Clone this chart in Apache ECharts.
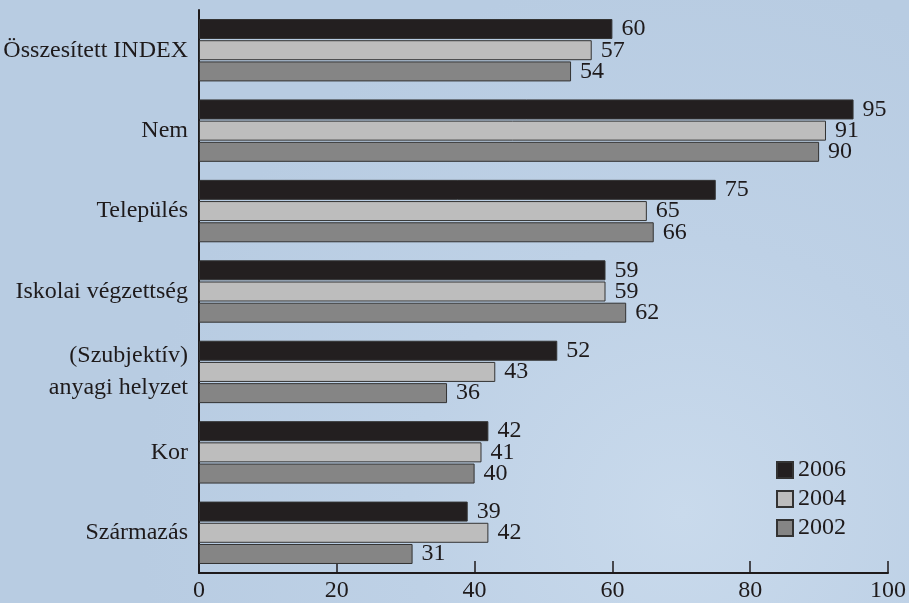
<!DOCTYPE html>
<html>
<head>
<meta charset="utf-8">
<script src="https://cdn.jsdelivr.net/npm/echarts@6/dist/echarts.min.js"></script>
<style>
  html, body { margin: 0; padding: 0; }
  #chart { width: 909px; height: 603px; }
</style>
</head>
<body>
<div id="chart"></div>
<script>
// kategóriák felülről lefelé
const categories = ['Összesített INDEX', 'Nem', 'Település', 'Iskolai végzettség',
  '(Szubjektív)\nanyagi helyzet', 'Kor', 'Származás'];
const values2006 = [60, 95, 75, 59, 52, 42, 39];
const values2004 = [57, 91, 65, 59, 43, 41, 42];
const values2002 = [54, 90, 66, 62, 36, 40, 31];
const xTicks = [0, 20, 40, 60, 80, 100];

const font = 'Liberation Serif';
const ink = '#1e1a1b';

function barSeries(name, data, color) {
  return {
    name: name,
    type: 'bar',
    data: data,
    barWidth: 20,
    barGap: '6%',
    itemStyle: { color: color, borderColor: '#333', borderWidth: 1 },
    label: {
      show: true,
      position: 'right',
      distance: 9,
      color: ink,
      fontFamily: font,
      fontSize: 24
    }
  };
}

const myChart = echarts.init(document.getElementById('chart'));
const option = {
  animation: false,
  backgroundColor: {
    type: 'radial', x: 0.75, y: 0.85, r: 0.9,
    colorStops: [
      { offset: 0, color: '#c9daec' },
      { offset: 0.5, color: '#bed1e6' },
      { offset: 1, color: '#b8cce2' }
    ]
  },
  grid: { left: 199, right: 21, top: 10, bottom: 29 },
  legend: {
    orient: 'vertical',
    left: 771,
    top: 453,
    icon: 'rect',
    itemWidth: 16,
    itemHeight: 16,
    itemGap: 5,
    textStyle: { color: ink, fontFamily: font, fontSize: 24 },
    data: ['2006', '2004', '2002']
  },
  xAxis: {
    type: 'value',
    position: 'bottom',
    min: 0,
    max: 100,
    interval: 20,
    axisLine: { show: true, onZero: false, lineStyle: { color: ink, width: 2 } },
    // kis osztásjelek felfelé
    axisTick: { show: true, inside: true, length: 12, lineStyle: { color: ink, width: 1.5 } },
    splitLine: { show: false },
    axisLabel: {
      color: ink, fontFamily: font, fontSize: 24, margin: 6,
      formatter: v => xTicks.includes(v) ? String(v) : ''
    }
  },
  yAxis: {
    type: 'category',
    inverse: true,
    data: categories,
    axisLine: { show: true, lineStyle: { color: ink, width: 2 } },
    axisTick: { show: false },
    axisLabel: {
      color: ink, fontFamily: font, fontSize: 24, margin: 11, lineHeight: 32
    }
  },
  series: [
    barSeries('2006', values2006, '#231f20'),
    barSeries('2004', values2004, '#bdbdbd'),
    barSeries('2002', values2002, '#858585')
  ]
};
myChart.setOption(option);
</script>
</body>
</html>
